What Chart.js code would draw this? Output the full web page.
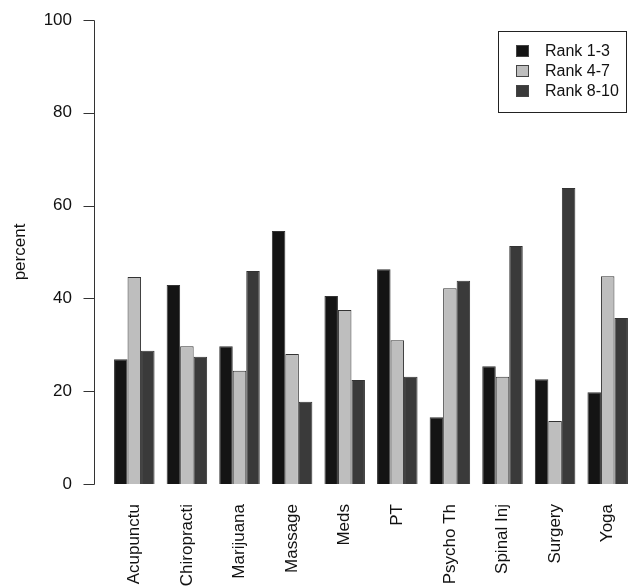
<!DOCTYPE html>
<html>
<head>
<meta charset="utf-8">
<script src="https://cdn.jsdelivr.net/npm/chart.js@4"></script>
<style>
  html, body { margin: 0; padding: 0; background: #fff; }
  #wrap { width: 636px; height: 588px; position: relative; }
</style>
</head>
<body>
<div id="wrap"><canvas id="rankChart"></canvas></div>
<script>
// data
const categories = ['Acupunctu', 'Chiropracti', 'Marijuana', 'Massage', 'Meds', 'PT', 'Psycho Th', 'Spinal Inj', 'Surgery', 'Yoga'];
const rank1to3 = [26.9, 42.9, 29.7, 54.5, 40.5, 46.3, 14.4, 25.4, 22.6, 19.8];
const rank4to7 = [44.6, 29.7, 24.4, 28.0, 37.5, 31.0, 42.2, 23.1, 13.6, 44.8];
const rank8to10 = [28.7, 27.4, 45.9, 17.7, 22.4, 23.1, 43.8, 51.3, 63.8, 35.8];
const yTicks = [0, 20, 40, 60, 80, 100];

const seriesNames = ['Rank 1-3', 'Rank 4-7', 'Rank 8-10'];
const seriesColors = ['#141414', '#bebebe', '#3a3a3a'];
const FONT = '"Liberation Sans", Arial, sans-serif';

// R style y axis: line + ticks drawn a bit left of the plot, plus boxed legend
const rAxisAndLegend = {
    id: 'rAxisAndLegend',
    afterDraw(chart) {
        const ctx = chart.ctx;
        const y = chart.scales.y;
        const ax = 94.5;
        ctx.save();
        ctx.strokeStyle = '#333';
        ctx.lineWidth = 1;
        ctx.beginPath();
        ctx.moveTo(ax, Math.round(y.getPixelForValue(yTicks[0])) + 0.5);
        ctx.lineTo(ax, Math.round(y.getPixelForValue(yTicks[yTicks.length - 1])) + 0.5);
        yTicks.forEach(v => {
            const py = Math.round(y.getPixelForValue(v)) + 0.5;
            ctx.moveTo(ax - 11, py);
            ctx.lineTo(ax, py);
        });
        ctx.stroke();

        // legend
        ctx.strokeStyle = '#222';
        ctx.strokeRect(498.5, 31.5, 128, 81);
        ctx.font = '16px ' + FONT;
        ctx.textBaseline = 'middle';
        chart.data.datasets.forEach((ds, i) => {
            const cy = 51 + i * 20;
            ctx.fillStyle = ds.backgroundColor;
            ctx.fillRect(516, cy - 6, 13, 12);
            ctx.strokeStyle = '#444';
            ctx.strokeRect(516.5, cy - 5.5, 12, 11);
            ctx.fillStyle = '#111';
            ctx.fillText(ds.label, 545, cy + 1);
        });
        ctx.restore();
    }
};

new Chart(document.getElementById('rankChart'), {
    type: 'bar',
    data: {
        labels: categories,
        datasets: [rank1to3, rank4to7, rank8to10].map((vals, i) => ({
            label: seriesNames[i],
            data: vals,
            backgroundColor: seriesColors[i],
            borderColor: '#333',
            borderWidth: 1,
            categoryPercentage: 0.77,
            barPercentage: 1.0
        }))
    },
    options: {
        responsive: true,
        maintainAspectRatio: false,
        animation: false,
        devicePixelRatio: 1,
        layout: { padding: { top: 20, right: 2, left: 0, bottom: 0 } },
        plugins: {
            legend: { display: false },
            tooltip: { enabled: false }
        },
        scales: {
            x: {
                grid: { display: false, drawTicks: false },
                border: { display: false },
                afterFit: s => {
                    s.height = 104;
                    s.paddingLeft = 0;
                    s.paddingRight = 0;
                    s.paddingTop = 0;
                    s.paddingBottom = 0;
                },
                ticks: {
                    color: '#111',
                    font: { family: FONT, size: 17 },
                    maxRotation: 90,
                    minRotation: 90,
                    autoSkip: false,
                    padding: 20
                }
            },
            y: {
                min: 0,
                max: 100,
                afterFit: s => {
                    s.width = 108;
                    s.paddingTop = 0;
                    s.paddingBottom = 0;
                },
                afterBuildTicks: s => { s.ticks = yTicks.map(v => ({ value: v })); },
                grid: { display: false, drawTicks: false },
                border: { display: false },
                ticks: {
                    color: '#111',
                    font: { family: FONT, size: 17 },
                    padding: 36
                },
                title: {
                    display: true,
                    text: 'percent',
                    color: '#111',
                    font: { family: FONT, size: 17 },
                    padding: { top: 10, bottom: 0 }
                }
            }
        }
    },
    plugins: [rAxisAndLegend]
});
</script>
</body>
</html>
